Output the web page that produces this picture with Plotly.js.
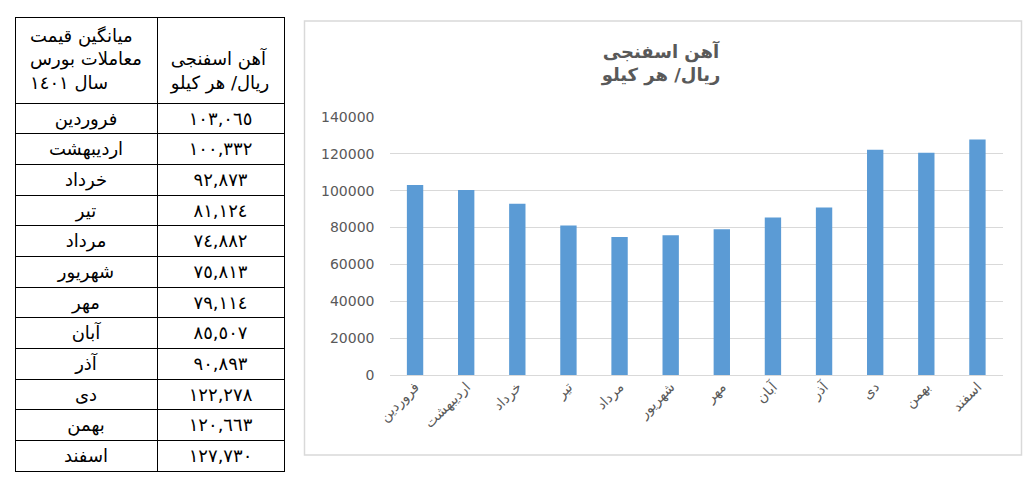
<!DOCTYPE html>
<html>
<head>
<meta charset="utf-8">
<script src="https://cdn.plot.ly/plotly-3.0.1.min.js"></script>
<style>
html,body{margin:0;padding:0;background:#fff;}
#chart{width:1026px;height:484px;}
</style>
</head>
<body>
<div id="chart"></div>
<script>
const months = ['فروردین','اردیبهشت','خرداد','تیر','مرداد','شهریور','مهر','آبان','آذر','دی','بهمن','اسفند'];
const prices = [103065,100332,92873,81124,74882,75813,79114,85507,90893,122278,120663,127730];
const headerLeft = 'میانگین قیمت<br>معاملات بورس<br>سال ١٤٠١';
const headerRight = '\u00a0<br>آهن اسفنجی<br>ریال/ هر کیلو';
const chartTitle = '<b>آهن اسفنجی</b><br><b>ریال/ هر کیلو</b>';

const arabicDigits = '٠١٢٣٤٥٦٧٨٩';
function toArabicNum(n){
  const s = String(n).replace(/\B(?=(\d{3})+(?!\d))/g, ',');
  return s.replace(/\d/g, d => arabicDigits[+d]);
}
const priceLabels = prices.map(toArabicNum);

const W = 1026, H = 484;
const px = x => x / W;
const py = y => (H - y) / H;

const tableTrace = {
  type: 'table',
  domain: {x: [px(15), px(284)], y: [py(482), py(17)]},
  columnorder: [0, 1],
  columnwidth: [142, 127],
  header: {
    values: [headerLeft, headerRight],
    align: 'center',
    height: 86,
    line: {color: '#000', width: 1},
    fill: {color: '#fff'},
    font: {family: 'DejaVu Sans, sans-serif', size: 18, color: '#000'}
  },
  cells: {
    values: [months, priceLabels],
    align: 'center',
    height: 30.67,
    line: {color: '#000', width: 1},
    fill: {color: '#fff'},
    font: {family: 'DejaVu Sans, sans-serif', size: 18, color: '#000'}
  }
};

const barTrace = {
  type: 'bar',
  x: months,
  y: prices,
  marker: {color: '#5b9bd5'},
  hoverinfo: 'x+y'
};

const layout = {
  width: W, height: H,
  margin: {l: 0, r: 0, t: 0, b: 0},
  paper_bgcolor: '#fff',
  plot_bgcolor: '#fff',
  showlegend: false,
  bargap: 0.68,
  title: {
    text: chartTitle,
    x: px(661), xanchor: 'center',
    y: py(58), yanchor: 'middle', yref: 'container',
    font: {family: 'DejaVu Sans, sans-serif', size: 18, color: '#595959'}
  },
  xaxis: {
    domain: [px(389.5), px(1003)],
    tickangle: -45,
    showgrid: false,
    showline: false,
    ticks: '',
    tickfont: {family: 'DejaVu Sans, sans-serif', size: 14, color: '#595959'},
    fixedrange: true
  },
  yaxis: {
    domain: [py(375), py(117)],
    range: [0, 140000],
    dtick: 20000,
    tickformat: 'd',
    showgrid: true,
    gridcolor: '#d9d9d9',
    gridwidth: 1,
    zeroline: true,
    zerolinecolor: '#d9d9d9',
    zerolinewidth: 1,
    showline: false,
    ticks: '',
    ticklabelstandoff: 14,
    tickfont: {family: 'DejaVu Sans, sans-serif', size: 14, color: '#595959'},
    fixedrange: true
  },
  shapes: [{
    type: 'rect', xref: 'paper', yref: 'paper',
    x0: px(304.5), x1: px(1021.5), y0: py(455), y1: py(21),
    line: {color: '#d9d9d9', width: 1.5},
    fillcolor: 'rgba(0,0,0,0)'
  }]
};

Plotly.newPlot('chart', [tableTrace, barTrace], layout, {displayModeBar: false, staticPlot: true});
</script>
</body>
</html>
